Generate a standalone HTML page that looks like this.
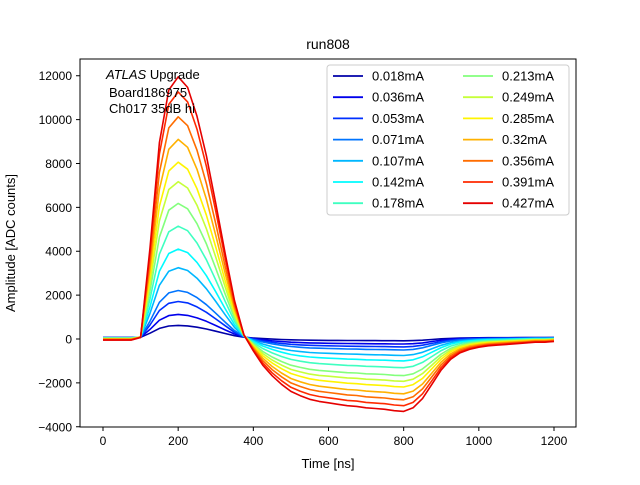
<!DOCTYPE html>
<html><head><meta charset="utf-8"><style>
body{margin:0;background:#fff}
svg{font-family:"Liberation Sans","DejaVu Sans",sans-serif}
</style></head><body>
<svg id="chart" width="640" height="480" xmlns="http://www.w3.org/2000/svg">
<rect width="640" height="480" fill="#fff"/>
<text x="328" y="49" text-anchor="middle" font-size="14">run808</text>
<g id="plot"></g>
<rect x="80" y="59" width="496" height="368" fill="none" stroke="#000" stroke-width="1"/>
<g id="ticks" font-size="12"></g>
<text x="328" y="468" text-anchor="middle" font-size="13">Time [ns]</text>
<text transform="translate(15,243) rotate(-90)" text-anchor="middle" font-size="13">Amplitude [ADC counts]</text>
<g font-size="13">
<text x="106" y="79"><tspan font-style="italic">ATLAS</tspan> Upgrade</text>
<text x="109" y="97">Board186975</text>
<text x="109" y="113">Ch017 35dB hi</text>
</g>
<g id="legend"></g>
</svg>
<script>
const labels=["0.018mA","0.036mA","0.053mA","0.071mA","0.107mA","0.142mA","0.178mA","0.213mA","0.249mA","0.285mA","0.32mA","0.356mA","0.391mA","0.427mA"];
const peaks=[550,1050,1650,2150,3200,4050,5100,6150,7150,8050,9100,10150,11300,12000];
const undershoots=[150,300,420,560,800,1050,1350,1700,1950,2200,2500,2750,3000,3250];
const baselines=[70,70,60,60,50,50,40,30,20,10,0,-20,-40,-50];
const times=[0,25,50,75,100,125,150,175,200,225,250,275,300,325,350,375,400,425,450,475,500,525,550,575,600,625,650,675,700,725,750,775,800,825,850,875,900,925,950,975,1000,1025,1050,1075,1100,1125,1150,1175,1200];
const posShape=[0,0,0,0,0.01,0.35,0.75,0.95,1.0,0.96,0.85,0.7,0.52,0.33,0.15,0.02,0,0,0,0,0,0,0,0,0,0,0,0,0,0,0,0,0,0,0,0,0,0,0,0,0,0,0,0,0,0,0,0,0];
const negShape=[0,0,0,0,0,0,0,0,0,0,0,0,0,0,0,0,0.15,0.35,0.5,0.62,0.72,0.78,0.83,0.86,0.88,0.9,0.92,0.93,0.95,0.96,0.97,0.99,1.0,0.95,0.82,0.62,0.42,0.27,0.18,0.13,0.1,0.08,0.07,0.06,0.05,0.04,0.03,0.03,0.02];
const xTicks=[0,200,400,600,800,1000,1200];
const yTicks=[-4000,-2000,0,2000,4000,6000,8000,10000,12000];
const NS="http://www.w3.org/2000/svg";
const X=t=>103+t*0.37583;
const Y=v=>339-v*0.021938;
function jet(f){const c=x=>Math.round(255*Math.max(0,Math.min(1,x)));
return `rgb(${c(1.5-Math.abs(4*f-3))},${c(1.5-Math.abs(4*f-2))},${c(1.5-Math.abs(4*f-1))})`;}
const colOf=i=>jet(0.04+0.86*i/(labels.length-1));
const plot=document.getElementById('plot');
labels.forEach((lab,i)=>{
 const d=times.map((t,k)=>(k?'L':'M')+X(t).toFixed(1)+','+Y(baselines[i]+peaks[i]*posShape[k]-undershoots[i]*negShape[k]).toFixed(1)).join('');
 const p=document.createElementNS(NS,'path');
 p.setAttribute('d',d);p.setAttribute('fill','none');p.setAttribute('stroke',colOf(i));p.setAttribute('stroke-width','1.6');p.setAttribute('stroke-linejoin','round');
 
 
 plot.appendChild(p);
});
const tk=document.getElementById('ticks');
xTicks.forEach(v=>{
 const g=document.createElementNS(NS,'g');
 
 
 g.innerHTML=`<line x1="${X(v)}" x2="${X(v)}" y1="427" y2="431" stroke="#000"/><text x="${X(v)}" y="445" text-anchor="middle">${v}</text>`;
 tk.appendChild(g);
});
yTicks.forEach(v=>{
 const g=document.createElementNS(NS,'g');
 
 
 g.innerHTML=`<line x1="76" x2="80" y1="${Y(v)}" y2="${Y(v)}" stroke="#000"/><text x="72" y="${Y(v)+4.5}" text-anchor="end">${v<0?'\u2212'+(-v):v}</text>`;
 tk.appendChild(g);
});
const lg=document.getElementById('legend');
const box=document.createElementNS(NS,'rect');
box.setAttribute('x','327');box.setAttribute('y','65');box.setAttribute('width','242');box.setAttribute('height','150');
box.setAttribute('rx','3');box.setAttribute('fill','#fff');box.setAttribute('stroke','#ccc');


lg.appendChild(box);
labels.forEach((lab,i)=>{
 const col=i<7?0:1, row=i%7;
 const x0=col?463:333, y=76+row*21.2;
 const g=document.createElementNS(NS,'g');
 
 
 g.innerHTML=`<line x1="${x0}" x2="${x0+30}" y1="${y}" y2="${y}" stroke="${colOf(i)}" stroke-width="1.8"/><text x="${x0+39}" y="${y+4.5}" font-size="13">${lab}</text>`;
 lg.appendChild(g);
});
</script>
</body></html>
